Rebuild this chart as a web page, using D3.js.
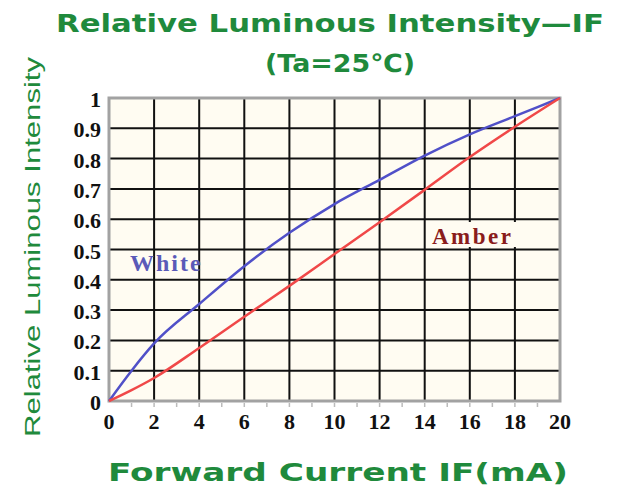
<!DOCTYPE html>
<html><head><meta charset="utf-8">
<script src="https://cdn.jsdelivr.net/npm/d3@7/dist/d3.min.js"></script>
<style>body{margin:0;background:#fff}</style>
</head><body>
<svg id="c" width="621" height="491"></svg>
<script>
const currentIF = [0, 1, 2, 4, 6, 8, 10, 12, 14, 16, 18, 20];
const whiteValues = [0, 0.10, 0.19, 0.32, 0.445, 0.555, 0.65, 0.73, 0.81, 0.88, 0.94, 1.0];
const amberValues = [0, 0.036, 0.076, 0.175, 0.278, 0.38, 0.485, 0.59, 0.697, 0.805, 0.905, 1.0];
const xTicks = [0, 2, 4, 6, 8, 10, 12, 14, 16, 18, 20];
const yTicks = [0, 0.1, 0.2, 0.3, 0.4, 0.5, 0.6, 0.7, 0.8, 0.9, 1];
const yTickLabels = ["0","0.1","0.2","0.3","0.4","0.5","0.6","0.7","0.8","0.9","1"];

const svg = d3.select("#c");
const x = d3.scaleLinear().domain([0, 20]).range([109, 560]);
const y = d3.scaleLinear().domain([0, 1]).range([401, 98]);
const green = "#1f8a3c";

svg.append("rect").attr("x", x(0)).attr("y", y(1)).attr("width", x(20)-x(0)).attr("height", y(0)-y(1))
  .attr("fill", "#fffcf2");

const g = svg.append("g");
g.selectAll("line.h").data(yTicks.slice(1, -1)).join("line")
  .attr("x1", x(0)).attr("x2", x(20)).attr("y1", d => y(d)).attr("y2", d => y(d))
  .attr("stroke", "#111").attr("stroke-width", 2);
g.selectAll("line.v").data(xTicks.slice(1, -1)).join("line")
  .attr("y1", y(0)).attr("y2", y(1)).attr("x1", d => x(d)).attr("x2", d => x(d))
  .attr("stroke", "#111").attr("stroke-width", 2);

const minor = d3.range(1, 20);
svg.append("g").selectAll("line").data(minor).join("line")
  .attr("x1", d => x(d)).attr("x2", d => x(d)).attr("y1", y(0)+2).attr("y2", y(0)+6)
  .attr("stroke", "#bbb").attr("stroke-width", 1.5);

svg.append("rect").attr("x", x(0)).attr("y", y(1)).attr("width", x(20)-x(0)).attr("height", y(0)-y(1))
  .attr("fill", "none").attr("stroke", "#a2a2a2").attr("stroke-width", 3);

const line = d3.line().x(d => x(d[0])).y(d => y(d[1])).curve(d3.curveMonotoneX);
svg.append("path").datum(currentIF.map((c, i) => [c, whiteValues[i]]))
  .attr("d", line).attr("fill", "none").attr("stroke", "#5050c8").attr("stroke-width", 2.5);
svg.append("path").datum(currentIF.map((c, i) => [c, amberValues[i]]))
  .attr("d", line).attr("fill", "none").attr("stroke", "#f04848").attr("stroke-width", 2.5);

svg.append("rect").attr("x", 428).attr("y", 222).attr("width", 96).attr("height", 25).attr("fill", "#fffcf2");
svg.append("text").attr("x", 432).attr("y", 244).text("Amber")
  .attr("font-family", "Liberation Serif").attr("font-weight", "bold").attr("font-size", 23)
  .attr("fill", "#8a1c1c").attr("letter-spacing", 2.5);
svg.append("text").attr("x", 130).attr("y", 271).text("White")
  .attr("font-family", "Liberation Serif").attr("font-weight", "bold").attr("font-size", 24)
  .attr("fill", "#5a5ab8").attr("letter-spacing", 2);

svg.append("g").selectAll("text").data(xTicks).join("text")
  .attr("x", d => x(d)).attr("y", 429).attr("text-anchor", "middle").text(d => d)
  .attr("font-family", "Liberation Serif").attr("font-weight", "bold").attr("font-size", 22).attr("fill", "#111");
svg.append("g").selectAll("text").data(yTicks).join("text")
  .attr("x", 101).attr("y", d => y(d) + 9).attr("text-anchor", "end").text((d, i) => yTickLabels[i])
  .attr("font-family", "Liberation Serif").attr("font-weight", "bold").attr("font-size", 22).attr("fill", "#111");

svg.append("text").attr("x", 330).attr("y", 32).attr("text-anchor", "middle")
  .text("Relative Luminous Intensity\u2014IF")
  .attr("font-family", "DejaVu Sans").attr("font-weight", "bold").attr("font-size", 25)
  .attr("fill", green).attr("textLength", 548).attr("lengthAdjust", "spacingAndGlyphs");
svg.append("text").attr("x", 340).attr("y", 72).attr("text-anchor", "middle")
  .text("(Ta=25\u2103)")
  .attr("font-family", "DejaVu Sans").attr("font-weight", "bold").attr("font-size", 25)
  .attr("fill", green).attr("textLength", 150).attr("lengthAdjust", "spacingAndGlyphs");
svg.append("text").attr("x", 338).attr("y", 481).attr("text-anchor", "middle")
  .text("Forward  Current  IF(mA)")
  .attr("font-family", "DejaVu Sans").attr("font-weight", "bold").attr("font-size", 25)
  .attr("fill", green).attr("textLength", 460).attr("lengthAdjust", "spacingAndGlyphs");
svg.append("text").attr("transform", "translate(40,247) rotate(-90)").attr("text-anchor", "middle")
  .text("Relative Luminous Intensity")
  .attr("font-family", "Liberation Sans").attr("font-size", 22)
  .attr("fill", green).attr("textLength", 380).attr("lengthAdjust", "spacingAndGlyphs");
</script>
</body></html>
